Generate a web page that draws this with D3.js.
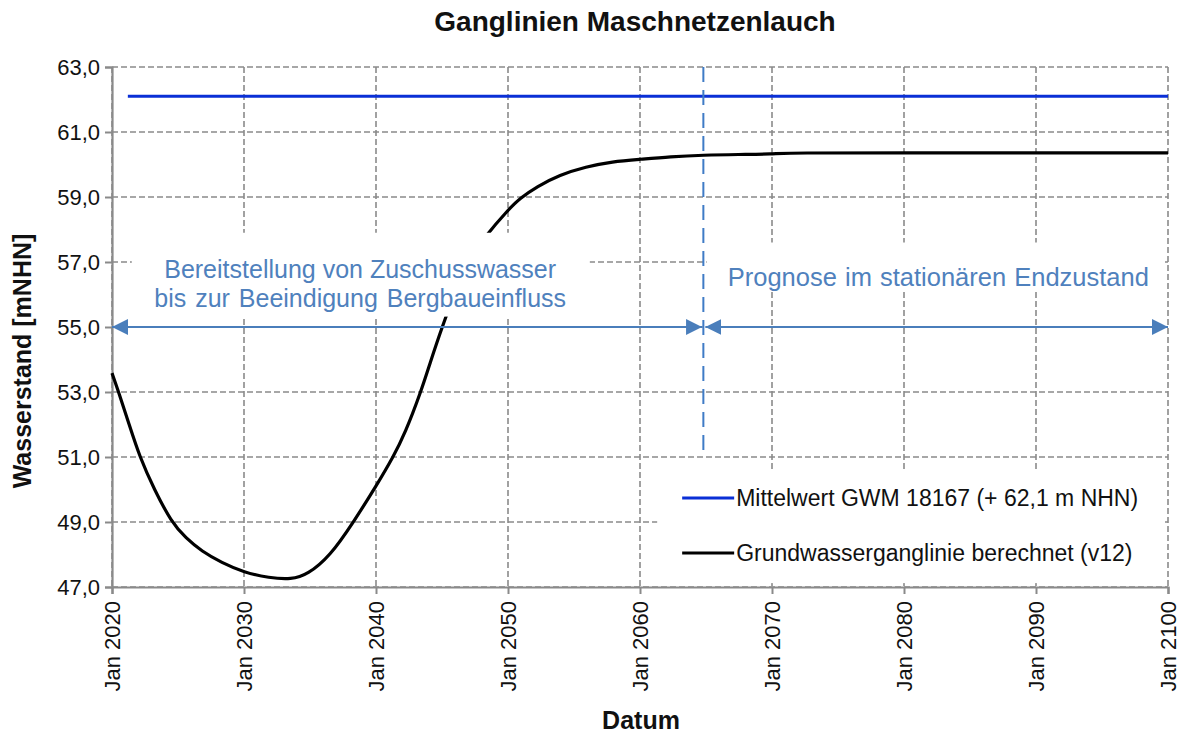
<!DOCTYPE html>
<html>
<head>
<meta charset="utf-8">
<script src="https://cdn.jsdelivr.net/npm/d3@7/dist/d3.min.js"></script>
<style>
  body { margin: 0; background: #fff; }
  svg { font-family: "Liberation Sans", Arial, sans-serif; }
</style>
</head>
<body>
<div id="chart"></div>
<script>
// Grundwasserganglinie berechnet (v12), Dezimaljahre / m NHN
var years  = [2020.0, 2020.5, 2021.3, 2022.1, 2023.2, 2024.5, 2025.6, 2026.8, 2028.3, 2030.0,
              2031.9, 2033.6, 2034.8, 2036.5, 2038.3, 2040.0, 2041.3, 2042.2, 2043.4, 2044.1,
              2045.0, 2046.2, 2047.3, 2048.35, 2050.0, 2050.9, 2052.2, 2053.9, 2055.9, 2057.9,
              2060.0, 2062.3, 2064.8, 2067.5, 2070.0, 2071.5, 2080.0, 2090.0, 2100.0];
var levels = [53.58, 53.0, 52.0, 51.0, 50.0, 49.0, 48.5, 48.1, 47.75, 47.45,
              47.28, 47.23, 47.38, 47.94, 49.0, 50.1, 51.0, 51.73, 53.0, 53.9,
              55.0, 56.3, 57.2, 57.83, 58.6, 58.96, 59.32, 59.68, 59.93, 60.09,
              60.16, 60.24, 60.29, 60.31, 60.32, 60.36, 60.36, 60.36, 60.36];

// Mittelwert GWM 18167
var meanYears = [2021.2, 2100];
var meanLevel = 62.1;

var xTicks = [2020, 2030, 2040, 2050, 2060, 2070, 2080, 2090, 2100];
var yTicks = [47, 49, 51, 53, 55, 57, 59, 61, 63];

var splitYear = 2064.8; // Ende Zuschusswasser
var legendItems = [
  { name: "Mittelwert GWM 18167 (+ 62,1 m NHN)", color: "#0a2fd6" },
  { name: "Grundwasserganglinie berechnet (v12)", color: "#000000" }
];

var width = 1186, height = 735;
var margin = { top: 67, right: 18, bottom: 148, left: 112 };
var w = width - margin.left - margin.right,
    h = height - margin.top - margin.bottom;

var svg = d3.select("#chart").append("svg")
    .attr("width", width).attr("height", height);

var x = d3.scaleLinear().domain([2020, 2100]).range([0, w]);
var y = d3.scaleLinear().domain([47, 63]).range([h, 0]);

var g = svg.append("g").attr("transform", "translate(" + margin.left + "," + margin.top + ")");

// grid
g.selectAll("line.hgrid").data(yTicks).enter().append("line")
    .attr("class", "hgrid")
    .attr("x1", 0).attr("x2", w)
    .attr("y1", function(d){ return y(d); }).attr("y2", function(d){ return y(d); })
    .attr("stroke", "#8a8a8a").attr("stroke-width", 1.6).attr("stroke-dasharray", "6,3");
g.selectAll("line.vgrid").data(xTicks).enter().append("line")
    .attr("class", "vgrid")
    .attr("y1", 0).attr("y2", h)
    .attr("x1", function(d){ return x(d); }).attr("x2", function(d){ return x(d); })
    .attr("stroke", "#8a8a8a").attr("stroke-width", 1.6).attr("stroke-dasharray", "6,3");

// axes
var yAxis = g.append("g").call(d3.axisLeft(y).tickValues(yTicks).tickSize(7)
    .tickFormat(function(d){ return d3.format(".1f")(d).replace(".", ","); }));
var xAxis = g.append("g").attr("transform", "translate(0," + h + ")")
    .call(d3.axisBottom(x).tickValues(xTicks).tickSize(7)
    .tickFormat(function(d){ return "Jan " + d; }));
[yAxis, xAxis].forEach(function(a){
  a.select(".domain").attr("stroke", "#8a8a8a").attr("stroke-width", 2.2);
  a.selectAll(".tick line").attr("stroke", "#8a8a8a").attr("stroke-width", 2);
  a.selectAll("text").attr("fill", "#111").attr("font-size", 22)
    .attr("font-family", "'Liberation Sans', Arial, sans-serif");
});
yAxis.selectAll("text").attr("x", -12);
xAxis.selectAll("text")
    .attr("transform", "rotate(-90)")
    .attr("text-anchor", "end")
    .attr("x", -14).attr("y", 0).attr("dy", "0.36em");

// series
var line = d3.line()
    .x(function(d){ return x(d[0]); })
    .y(function(d){ return y(d[1]); })
    .curve(d3.curveBasis);

g.append("path")
    .datum(meanYears.map(function(t){ return [t, meanLevel]; }))
    .attr("d", line).attr("fill", "none")
    .attr("stroke", legendItems[0].color).attr("stroke-width", 3.2);

g.append("path")
    .datum(years.map(function(t, i){ return [t, levels[i]]; }))
    .attr("d", line).attr("fill", "none")
    .attr("stroke", "#000").attr("stroke-width", 3.2);

// Trennlinie
g.append("line")
    .attr("x1", x(splitYear)).attr("x2", x(splitYear))
    .attr("y1", 0).attr("y2", y(51))
    .attr("stroke", "#3f7bc6").attr("stroke-width", 2).attr("stroke-dasharray", "15,8");

// annotation boxes
var annoColor = "#4f81bd";
g.append("rect")
    .attr("x", x(2021.5)).attr("y", y(57.9))
    .attr("width", x(2056.2) - x(2021.5)).attr("height", y(55.32) - y(57.9))
    .attr("fill", "#fff");
g.append("rect")
    .attr("x", x(2065.05)).attr("y", y(57.6))
    .attr("width", x(2099.7) - x(2065.05)).attr("height", y(56.15) - y(57.6))
    .attr("fill", "#fff");

var t1 = g.append("text").attr("fill", annoColor).attr("font-size", 25).attr("text-anchor", "middle");
t1.append("tspan").attr("x", x(2038.8)).attr("y", y(56.75) + 8).text("Bereitstellung von Zuschusswasser");
t1.append("tspan").attr("x", x(2038.8)).attr("y", y(56.75) + 37).attr("word-spacing", 2)
    .text("bis zur Beeindigung Bergbaueinfluss");
g.append("text").attr("fill", annoColor).attr("font-size", 25.5).attr("text-anchor", "middle")
    .attr("word-spacing", 1)
    .attr("x", x(2082.6)).attr("y", y(56.75) + 16)
    .text("Prognose im stationären Endzustand");

// arrows
svg.append("defs").selectAll("marker").data(["start", "end"]).enter().append("marker")
    .attr("id", function(d){ return "arr-" + d; })
    .attr("viewBox", "0 0 12 12").attr("refX", function(d){ return d === "end" ? 12 : 0; }).attr("refY", 6)
    .attr("markerWidth", 8).attr("markerHeight", 8).attr("markerUnits", "strokeWidth")
    .attr("orient", "auto")
    .append("path")
    .attr("d", function(d){ return d === "end" ? "M0,0 L12,6 L0,12 Z" : "M12,0 L0,6 L12,12 Z"; })
    .attr("fill", "#4a7ebb");
[[2020, splitYear - 0.1], [splitYear + 0.15, 2100]].forEach(function(r){
  g.append("line")
      .attr("x1", x(r[0])).attr("x2", x(r[1]))
      .attr("y1", y(55)).attr("y2", y(55))
      .attr("stroke", "#4a7ebb").attr("stroke-width", 2)
      .attr("marker-start", "url(#arr-start)").attr("marker-end", "url(#arr-end)");
});

// legend
var lx = x(2061.3), ly = y(50.6);
var legend = g.append("g");
legend.append("rect")
    .attr("x", lx).attr("y", ly)
    .attr("width", x(2099.7) - lx).attr("height", y(47.12) - ly)
    .attr("fill", "#fff");
var li = legend.selectAll("g.item").data(legendItems).enter().append("g")
    .attr("class", "item")
    .attr("transform", function(d, i){ return "translate(" + (lx + 25) + "," + (ly + 28 + i * 55) + ")"; });
li.append("line").attr("x1", 0).attr("x2", 52).attr("y1", 0).attr("y2", 0)
    .attr("stroke", function(d){ return d.color; }).attr("stroke-width", 3.2);
li.append("text").attr("x", 54).attr("y", 8).attr("font-size", 23).attr("fill", "#111")
    .text(function(d){ return d.name; });

// titles
svg.append("text").attr("x", 635).attr("y", 31).attr("text-anchor", "middle")
    .attr("font-size", 28).attr("font-weight", "bold").attr("fill", "#111")
    .text("Ganglinien Maschnetzenlauch");
svg.append("text").attr("transform", "translate(31,361) rotate(-90)").attr("text-anchor", "middle")
    .attr("font-size", 25).attr("font-weight", "bold").attr("fill", "#111")
    .text("Wasserstand [mNHN]");
svg.append("text").attr("x", 641).attr("y", 729).attr("text-anchor", "middle")
    .attr("font-size", 25).attr("font-weight", "bold").attr("fill", "#111")
    .text("Datum");
</script>
</body>
</html>
